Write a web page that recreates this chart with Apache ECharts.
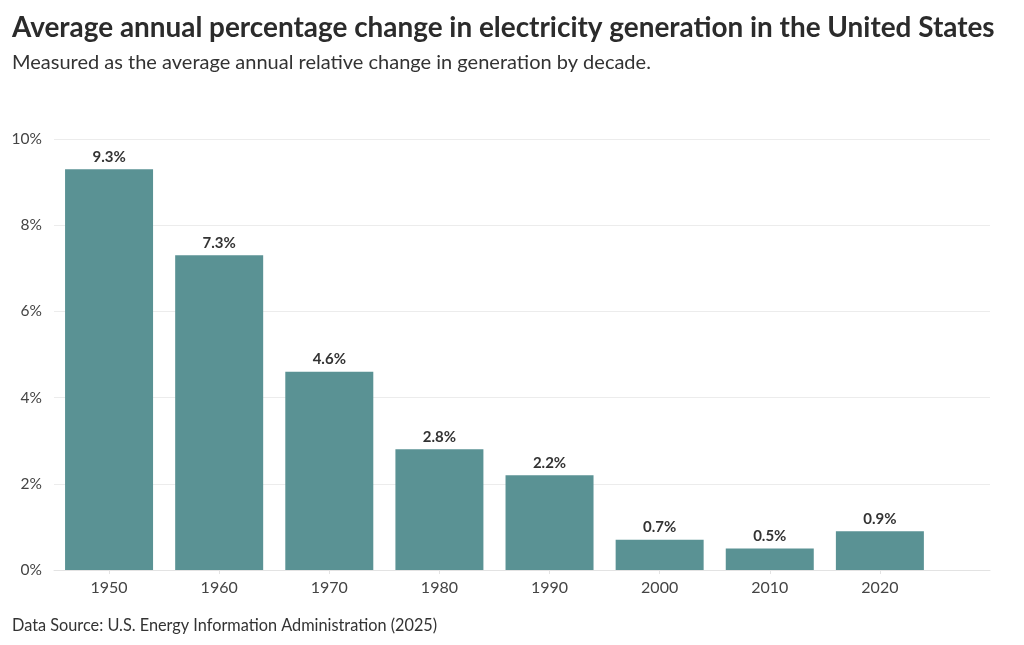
<!DOCTYPE html>
<html>
<head>
<meta charset="utf-8">
<script src="https://cdn.jsdelivr.net/npm/echarts@6/dist/echarts.min.js"></script>
<style>
html,body{margin:0;padding:0;background:#fff;}
#c{width:1024px;height:645px;}
</style>
</head>
<body>
<div id="c"></div>
<script>
const decades = [1950, 1960, 1970, 1980, 1990, 2000, 2010, 2020];
const changePct = [9.3, 7.3, 4.6, 2.8, 2.2, 0.7, 0.5, 0.9];
const yTicks = [0, 2, 4, 6, 8, 10];

const FONT = 'Lato';
const chart = echarts.init(document.getElementById('c'), null, {renderer: 'canvas'});
chart.setOption({
  backgroundColor: '#ffffff',
  animation: false,
  title: [
    {text: 'Average annual percentage change in electricity generation in the United States',
     left: 7, top: 9,
     textStyle: {fontFamily: FONT, fontWeight: 'bold', fontSize: 27.9, color: '#2b2b2b'}},
    {text: 'Measured as the average annual relative change in generation by decade.',
     left: 7, top: 48,
     textStyle: {fontFamily: FONT, fontWeight: 'normal', fontSize: 20, color: '#333'}},
    {text: 'Data Source: U.S. Energy Information Administration (2025)',
     left: 7, top: 613,
     textStyle: {fontFamily: FONT, fontWeight: 'normal', fontSize: 16.3, color: '#333'}}
  ],
  grid: {left: 54, right: 34, top: 139, bottom: 75, containLabel: false},
  xAxis: {
    type: 'value', min: 1945, max: 2030,
    axisLine: {show: true, lineStyle: {color: '#e3e3e3', width: 1}},
    axisTick: {show: true, customValues: decades, length: 4, lineStyle: {color: '#e3e3e3'}},
    splitLine: {show: false},
    axisLabel: {customValues: decades, fontFamily: FONT, fontSize: 16, color: '#444', margin: 10,
      formatter: v => String(v)}
  },
  yAxis: {
    type: 'value', min: 0, max: 10, interval: 2,
    axisLine: {show: false}, axisTick: {show: false},
    splitLine: {lineStyle: {color: '#ececec', width: 1}},
    axisLabel: {fontFamily: FONT, fontSize: 15.5, color: '#444', margin: 12,
      formatter: v => v + '%'}
  },
  series: [{
    type: 'bar',
    data: decades.map((d, i) => [d, changePct[i]]),
    barWidth: 88,
    itemStyle: {color: '#5a9294'},
    label: {show: true, position: 'top', distance: 5, fontFamily: FONT, fontWeight: 'bold',
      fontSize: 15, color: '#333', formatter: p => p.value[1].toFixed(1) + '%'}
  }]
});
</script>
</body>
</html>
